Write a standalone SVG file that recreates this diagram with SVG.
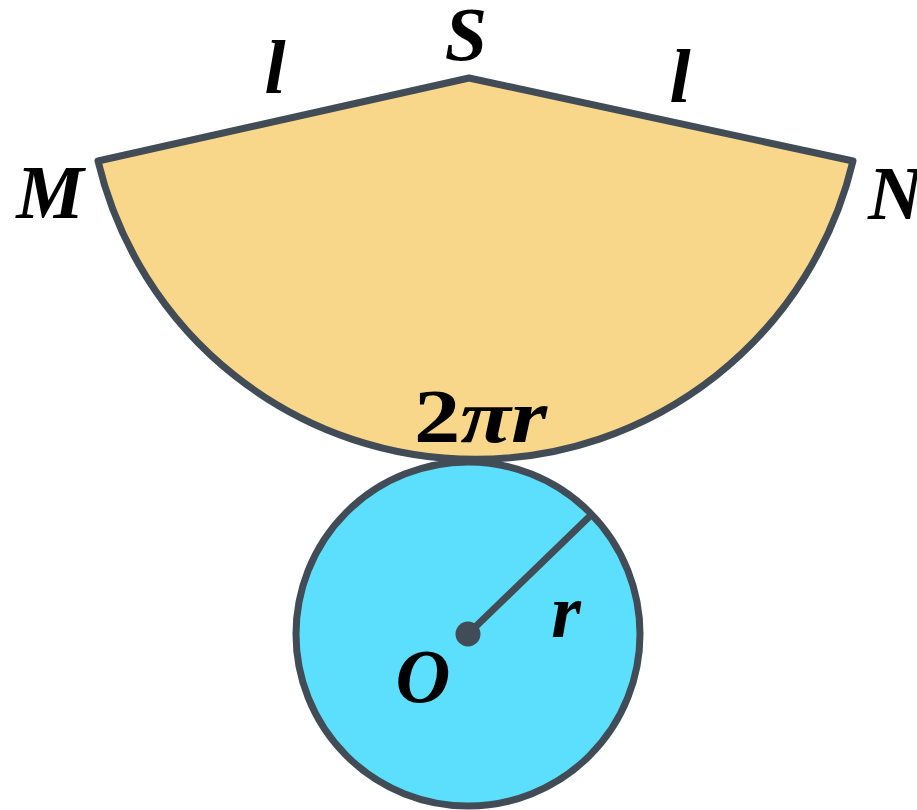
<svg xmlns="http://www.w3.org/2000/svg" width="917" height="810" viewBox="0 0 917 810">
<style>
.lbl{font-family:"Liberation Serif","DejaVu Serif",serif;font-weight:bold;font-style:italic;font-size:76px;fill:#000}
.up{font-style:normal}
.edge{stroke:#414C56;stroke-width:7;stroke-linejoin:round;stroke-linecap:round}
</style>
<rect width="917" height="810" fill="#fff"/>
<g id="sector">
<path class="edge" d="M98 161 L469 78 L853 161 A388 388 0 0 1 98 161 Z" fill="#F8D78A"/>
</g>
<g id="circle">
<circle class="edge" cx="468" cy="634" r="172" fill="#5BDFFD"/>
</g>
<g id="connectors">
<line class="edge" x1="468" y1="634" x2="590" y2="516"/>
<circle cx="468" cy="634" r="12.5" fill="#414C56"/>
</g>
<g id="labels">
<text class="lbl" x="466" y="60" text-anchor="middle">S</text>
<text class="lbl" x="275" y="93" text-anchor="middle">l</text>
<text class="lbl" x="680" y="102" text-anchor="middle">l</text>
<text class="lbl" x="50" y="218" text-anchor="middle">M</text>
<text class="lbl" x="868" y="219">N</text>
<text class="lbl" x="414" y="442" textLength="133" lengthAdjust="spacingAndGlyphs"><tspan class="up">2</tspan>πr</text>
<text class="lbl" x="423" y="702" text-anchor="middle">O</text>
<text class="lbl" x="566" y="637" text-anchor="middle">r</text>
</g>
</svg>
